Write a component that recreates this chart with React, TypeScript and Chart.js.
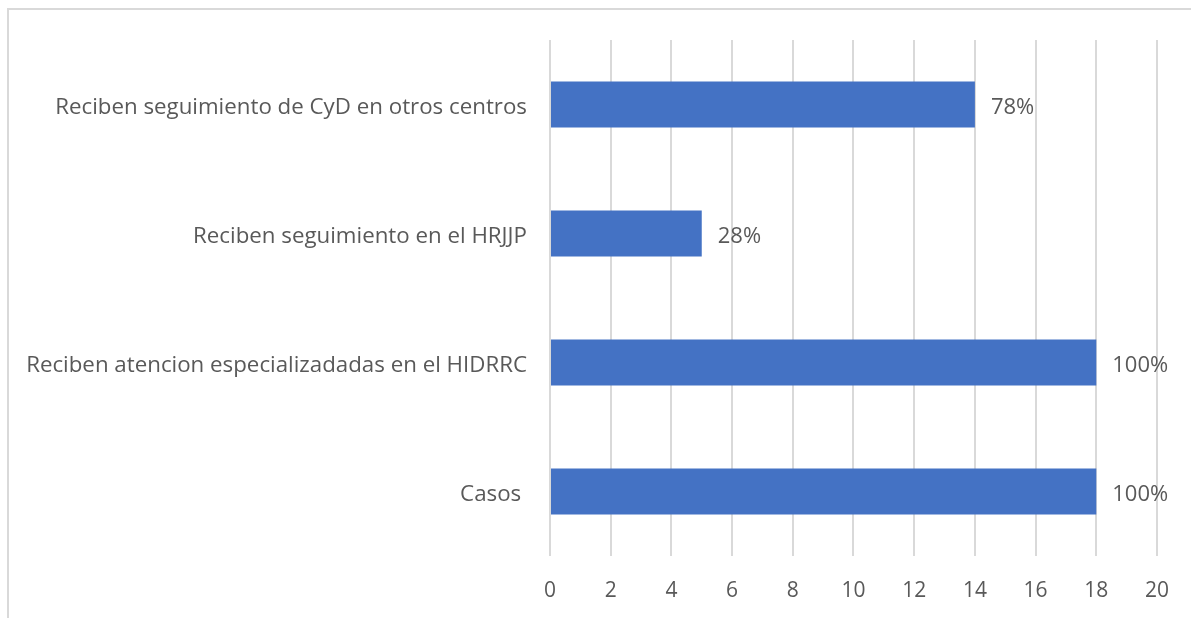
import React, { useEffect, useRef } from "react";
import { Chart, registerables } from "chart.js";

Chart.register(...registerables);

const categories = [
  "Reciben seguimiento de CyD en otros centros",
  "Reciben seguimiento en el HRJJP",
  "Reciben atencion especializadadas en el HIDRRC",
  "Casos ",
];
const values = [14, 5, 18, 18];
const percentLabels = ["78%", "28%", "100%", "100%"];

const FONT = "'Open Sans', Lato, sans-serif";
const TEXT = "#595959";

const dataLabelPlugin = {
  id: "dataLabels",
  afterDatasetsDraw(chart: any) {
    const ctx = chart.ctx;
    const meta = chart.getDatasetMeta(0);
    ctx.save();
    ctx.font = `22px ${FONT}`;
    ctx.fillStyle = TEXT;
    ctx.textAlign = "left";
    ctx.textBaseline = "middle";
    meta.data.forEach((el: any, i: number) => {
      ctx.fillText(percentLabels[i], el.x + 16, el.y + 3);
    });
    ctx.restore();
  },
};

export default function App() {
  const ref = useRef<HTMLCanvasElement | null>(null);
  useEffect(() => {
    document.body.style.overflow = "hidden";
    const canvas = ref.current!;
    const chart = new Chart(canvas, {
      type: "bar",
      data: {
        labels: categories,
        datasets: [
          {
            data: values,
            backgroundColor: "#4472C4",
            borderWidth: 0,
            categoryPercentage: 1,
            barPercentage: 0.356,
          },
        ],
      },
      options: {
        indexAxis: "y",
        animation: false,
        responsive: false,
        maintainAspectRatio: false,
        layout: { padding: { left: 0, right: 30, top: 40, bottom: 0 } },
        plugins: { legend: { display: false }, tooltip: { enabled: false } },
        scales: {
          x: {
            min: 0,
            max: 20,
            ticks: {
              stepSize: 2,
              color: TEXT,
              font: { family: FONT, size: 21 },
              padding: 22,
            },
            grid: { color: "#d9d9d9", lineWidth: 2, drawTicks: false },
            border: { display: false },
            afterFit: (s: any) => {
              s.height = 618 - 556;
            },
          },
          y: {
            ticks: {
              color: TEXT,
              font: { family: FONT, size: 22.3 },
              padding: 23,
              labelOffset: 3,
            },
            grid: { display: false, drawTicks: false },
            border: { display: false },
            afterFit: (s: any) => {
              s.width = 550;
            },
          },
        },
      },
      plugins: [dataLabelPlugin],
    });
    return () => chart.destroy();
  }, []);

  return (
    <div>
      <div
        style={{
          position: "fixed",
          left: 7,
          top: 8,
          width: 1400,
          height: 800,
          borderLeft: "2px solid #d9d9d9",
          borderTop: "2px solid #d9d9d9",
        }}
      />
      <canvas
        ref={ref}
        width={1191}
        height={618}
        style={{ position: "fixed", left: 0, top: 0, width: 1191, height: 618 }}
      />
    </div>
  );
}
